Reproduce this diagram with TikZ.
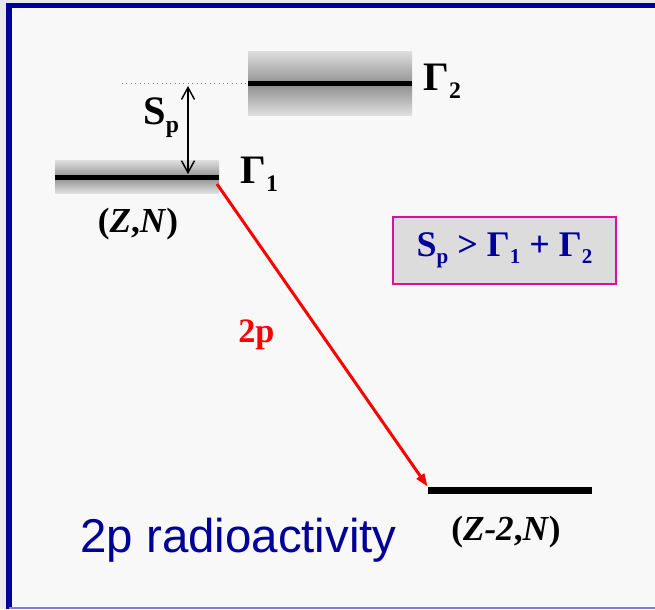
\documentclass[tikz,border=0pt]{standalone}
\usepackage{fontspec}
\setmainfont{Liberation Serif}
\newfontfamily\arialfont{Liberation Sans}
\usepackage{xcolor}
\usetikzlibrary{positioning, arrows.meta}

\definecolor{frameblue}{HTML}{000099}
\definecolor{boxpink}{HTML}{DD0F99}
\definecolor{boxgray}{HTML}{DCDCDC}
\definecolor{paper}{HTML}{F8F8F8}
\definecolor{outside}{HTML}{E8E8E8}

\newcommand{\lowsub}[1]{\raisebox{-5pt}{\fontsize{13.5}{13.5}\selectfont #1}}
\newcommand{\boxsub}[1]{\raisebox{-4pt}{\fontsize{12}{12}\selectfont #1}}

\begin{document}
\begin{tikzpicture}[
                x=0.02cm, y=-0.02cm,
                >=Stealth,
                levelline/.style={fill=black, inner sep=0pt, minimum width=3.28cm, minimum height=0.1cm},
                label/.style={inner sep=0pt, font=\fontsize{23}{27}\selectfont\bfseries},
                nuclide/.style={inner sep=0pt, font=\fontsize{20}{24}\selectfont\bfseries}
            ]
                \useasboundingbox (0,0) rectangle (655,609);
                \fill[outside] (0,0) rectangle (655,609);
                \fill[paper] (9,5.5) rectangle (655,607);
                \draw[frameblue, line width=3pt] (9,609) -- (9,5.5) -- (655,5.5);
                \draw[frameblue!50, line width=1pt] (9,608) -- (655,608);

                % widths of the two levels
                \shade[top color=gray!25, bottom color=gray!85] (248,51) rectangle (412,83.5);
                \shade[top color=gray!90, bottom color=gray!25] (248,83.5) rectangle (412,115);
                \shade[top color=gray!25, bottom color=gray!85] (55,160) rectangle (219,177);
                \shade[top color=gray!90, bottom color=gray!25] (55,177) rectangle (219,193);

                \node[levelline] (G2) at (330,83.5) {};
                \node[levelline] (G1) at (137,177) {};
                \node[levelline, minimum height=0.14cm] (G0) at (510,490.5) {};

                \node[label, anchor=base west] (gam2) at (423,90) {Γ\lowsub{2}};
                \node[label, anchor=base west] (gam1) at (240,183) {Γ\lowsub{1}};
                \node[label, anchor=base west] (sp) at (143,124) {S\lowsub{p}};
                \node[nuclide, anchor=base] (zn) at (138,232) {(\textit{Z},\textit{N})};
                \node[nuclide, anchor=base] (zn2) at (506,540) {(\textit{Z-2},\textit{N})};
                \node[inner sep=0pt, anchor=base west, text=red,
                      font=\fontsize{19.5}{23}\selectfont\bfseries] (twop) at (238,342) {2p};
                \node[inner sep=0pt, anchor=base west, text=frameblue,
                      font=\arialfont\fontsize{27}{31}\selectfont] (title) at (80,552) {2p radioactivity};

                \node[draw=boxpink, fill=boxgray, line width=1.1pt, text=frameblue,
                      minimum width=4.46cm, minimum height=1.34cm,
                      font=\fontsize{20.5}{24}\selectfont\bfseries] (cond) at (504.5,250.5)
                      {S\boxsub{p} > Γ\boxsub{1} + Γ\boxsub{2}};

                \coordinate (dotstart) at (122,83.5);
                \coordinate (sptop) at (188,86);
                \coordinate (decaystart) at (217,184);

                \draw[gray, dotted, line width=0.5pt] (dotstart) -- (G2.west);
                \draw[{Straight Barb[length=2.4mm, width=2.6mm]}-{Straight Barb[length=2.4mm, width=2.6mm]}, line width=0.8pt]
                (sptop) -- (sptop |- G1.north);
                \draw[-{Triangle[length=2.6mm, width=1.8mm]}, red, line width=1.7pt]
                (decaystart) -- (G0.north west);
            \end{tikzpicture}
\end{document}
